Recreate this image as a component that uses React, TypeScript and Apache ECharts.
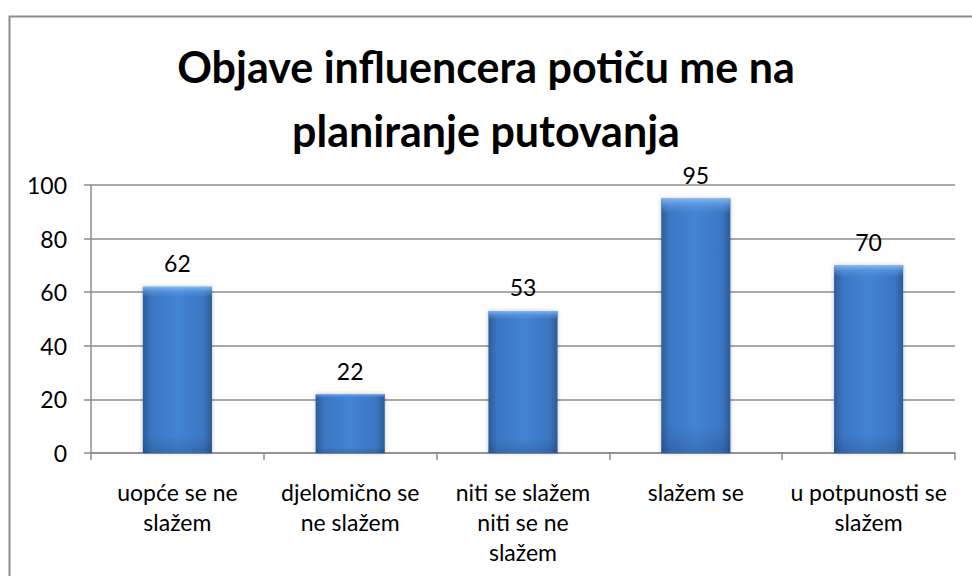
import React, { useEffect, useRef } from "react";
import * as echarts from "echarts";

const titleText = "Objave influencera potiču me na\nplaniranje putovanja";
const categories = [
  "uopće se ne\nslažem",
  "djelomično se\nne slažem",
  "niti se slažem\nniti se ne\nslažem",
  "slažem se",
  "u potpunosti se\nslažem",
];
const values = [62, 22, 53, 95, 70];
const yTicks = [0, 20, 40, 60, 80, 100];

export default function App() {
  const ref = useRef<HTMLDivElement>(null);
  useEffect(() => {
    if (!ref.current) return;
    const chart = echarts.init(ref.current, null, { renderer: "svg" });
    const font = "Lato, 'Open Sans', sans-serif";
    chart.setOption({
      animation: false,
      backgroundColor: "#ffffff",
      graphic: [
        {
          type: "rect",
          shape: { x: 9.5, y: 16.5, width: 1000, height: 600 },
          style: { fill: "none", stroke: "#8c8c8c", lineWidth: 2 },
          silent: true,
        },
      ],
      title: {
        text: titleText,
        left: "center",
        top: 29,
        textStyle: {
          fontFamily: font,
          fontSize: 43,
          fontWeight: "bold",
          color: "#000000",
          lineHeight: 64,
        },
      },
      grid: { left: 91, right: 17, top: 185, bottom: 123, containLabel: false },
      xAxis: {
        type: "category",
        data: categories,
        axisLine: { lineStyle: { color: "#8c8c8c", width: 1.5 } },
        axisTick: { show: true, length: 7, lineStyle: { color: "#8c8c8c", width: 1.5 } },
        axisLabel: {
          interval: 0,
          margin: 24,
          fontFamily: font,
          fontSize: 23,
          color: "#000000",
          lineHeight: 30,
        },
      },
      yAxis: {
        type: "value",
        min: yTicks[0],
        max: yTicks[yTicks.length - 1],
        interval: 20,
        axisLine: { show: true, lineStyle: { color: "#8c8c8c", width: 1.5 } },
        axisTick: { show: true, length: 7, lineStyle: { color: "#8c8c8c", width: 1.5 } },
        splitLine: { lineStyle: { color: "#8c8c8c", width: 1.5 } },
        axisLabel: {
          margin: 24,
          fontFamily: font,
          fontSize: 23,
          color: "#000000",
        },
      },
      series: [
        {
          type: "bar",
          data: values,
          barWidth: "40%",
          itemStyle: {
            color: new echarts.graphic.LinearGradient(0, 0, 1, 0, [
              { offset: 0, color: "#2d5b98" },
              { offset: 0.12, color: "#3b76c2" },
              { offset: 0.5, color: "#4384d4" },
              { offset: 0.88, color: "#3b76c2" },
              { offset: 1, color: "#2d5b98" },
            ]),
            shadowColor: "rgba(0,0,0,0.25)",
            shadowBlur: 4,
          },
          label: {
            show: true,
            position: "top",
            distance: 12,
            fontFamily: font,
            fontSize: 23,
            color: "#000000",
          },
        },
        {
          type: "bar",
          data: values,
          barWidth: "40%",
          barGap: "-100%",
          silent: true,
          itemStyle: {
            color: new echarts.graphic.LinearGradient(0, 0, 0, 1, [
              { offset: 0, color: "rgba(140,190,245,0.9)" },
              { offset: 0.03, color: "rgba(100,160,230,0.5)" },
              { offset: 0.06, color: "rgba(100,160,230,0)" },
              { offset: 0.9, color: "rgba(20,50,100,0)" },
              { offset: 1, color: "rgba(20,50,100,0.25)" },
            ]),
          },
        },
      ],
    });
    return () => chart.dispose();
  }, []);
  return <div ref={ref} style={{ width: 972, height: 576, position: "absolute", left: 0, top: 0 }} />;
}
